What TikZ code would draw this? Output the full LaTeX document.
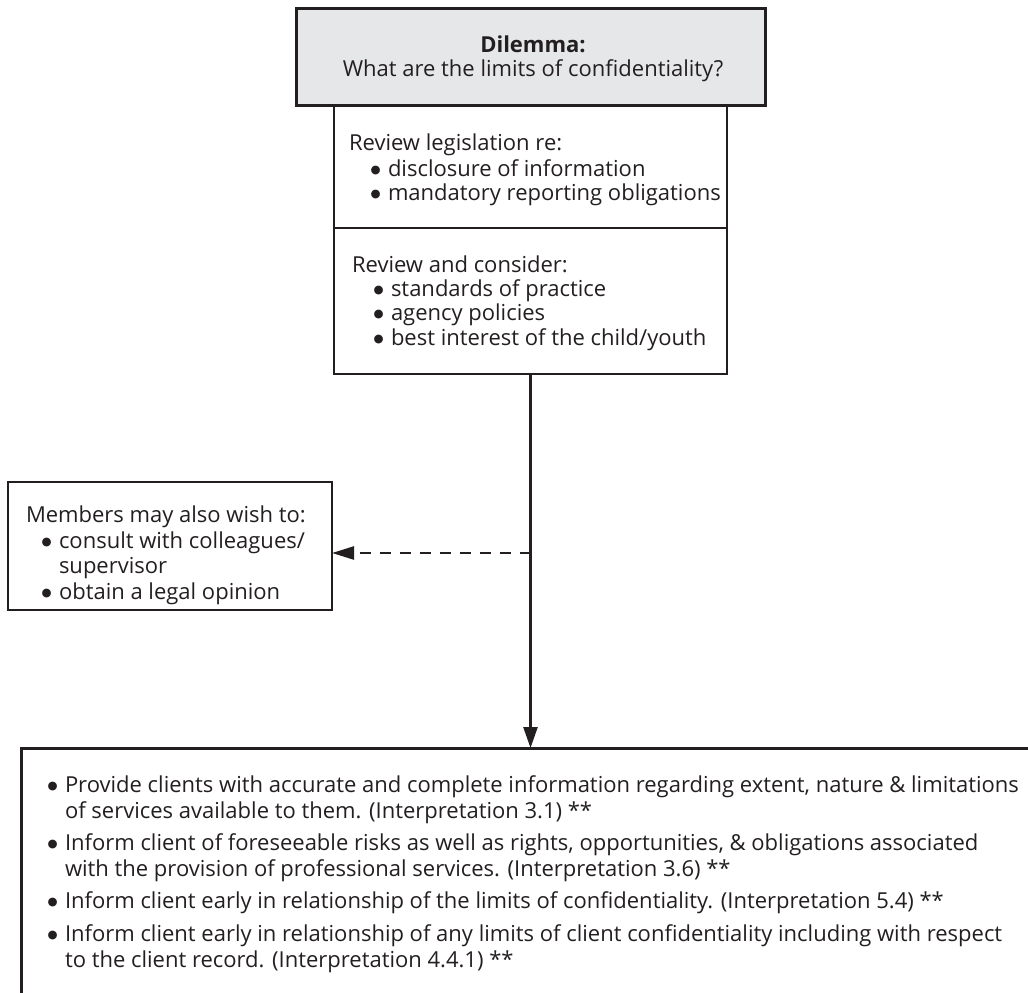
\documentclass[tikz,border=0pt]{standalone}
\usepackage{fontspec}
\setmainfont{Open Sans}
\newfontfamily\dejavu{DejaVu Sans}
\usetikzlibrary{arrows.meta}
\definecolor{ink}{HTML}{231F20}
\definecolor{boxgray}{HTML}{E6E7E8}
\newcommand\bigbul{\raisebox{3pt}{\fontsize{11.5}{11.5}\dejavu ●}}
\newcommand\bul{\makebox[15pt][l]{\hspace*{-2.5pt}\bigbul}}
\newcommand\bulb{\makebox[15pt][l]{\hspace*{-2.5pt}\bigbul}}
\begin{document}
\begin{tikzpicture}[x=1pt,y=-1pt,
  every node/.style={font=\fontsize{22}{26}\selectfont, text=ink, inner sep=0pt, outer sep=0pt},
  txt/.style={anchor=base west},
  ctr/.style={anchor=base},
  thickbox/.style={draw=ink, line width=3pt, anchor=north west},
  thinbox/.style={draw=ink, line width=1.3pt, anchor=north west},
  conn/.style={draw=ink, line width=2.4pt, -{Triangle[length=21pt,width=14pt]}},
  dconn/.style={draw=ink, line width=2.4pt, dash pattern=on 11pt off 9pt, -{Triangle[length=22pt,width=13pt]}}
]
\useasboundingbox (0,0) rectangle (1028,993);
\begin{scope}
\clip (0,0) rectangle (1028,993);
% boxes
\node[thinbox, minimum width=393pt, minimum height=123pt] (leg) at (334,105) {};
\node[thinbox, minimum width=393pt, minimum height=146pt] (rev) at (334,228) {};
\node[thickbox, fill=boxgray, minimum width=469pt, minimum height=97pt] (dil) at (296,8) {};
\node[thinbox, minimum width=324pt, minimum height=128pt] (mem) at (8,482) {};
\node[thickbox, minimum width=1040pt, minimum height=300pt] (res) at (21,748) {};
% texts
\node[ctr, font=\fontsize{22}{26}\selectfont\bfseries] (d1) at (533,52) {Dilemma:};
\node[ctr] (d2) at (533,76) {What are the limits of confidentiality?};
\node[txt] (l1) at (349,150) {Review legislation re:};
\node[txt] (l2) at (373,176) {\bul disclosure of information};
\node[txt] (l3) at (373,200) {\bul mandatory reporting obligations};
\node[txt] (r1) at (352,272) {Review and consider:};
\node[txt] (r2) at (376,296) {\bul standards of practice};
\node[txt] (r3) at (376,320) {\bul agency policies};
\node[txt] (r4) at (376,345) {\bul best interest of the child/youth};
\node[txt] (m1) at (26,522) {Members may also wish to:};
\node[txt] (m2) at (44,548) {\bul consult with colleagues/};
\node[txt] (m3) at (59,573) {supervisor};
\node[txt] (m4) at (44,599) {\bul obtain a legal opinion};
\node[txt] (b1) at (50,792) {\bulb Provide clients with accurate and complete information regarding extent, nature \& limitations};
\node[txt] (b2) at (65,818) {of services available to them. (Interpretation 3.1) **};
\node[txt] (b3) at (50,850) {\bulb Inform client of foreseeable risks as well as rights, opportunities, \& obligations associated};
\node[txt] (b4) at (65,876) {with the provision of professional services. (Interpretation 3.6) **};
\node[txt] (b5) at (50,908) {\bulb Inform client early in relationship of the limits of confidentiality. (Interpretation 5.4) **};
\node[txt] (b6) at (50,941) {\bulb Inform client early in relationship of any limits of client confidentiality including with respect};
\node[txt] (b7) at (65,967) {to the client record. (Interpretation 4.4.1) **};
% connectors
\draw[conn] (rev.south) -- (rev.south |- res.north);
\coordinate (j) at (530.5,553);
\draw[dconn] (j) -- (j -| mem.east);
\end{scope}
\end{tikzpicture}
\end{document}
